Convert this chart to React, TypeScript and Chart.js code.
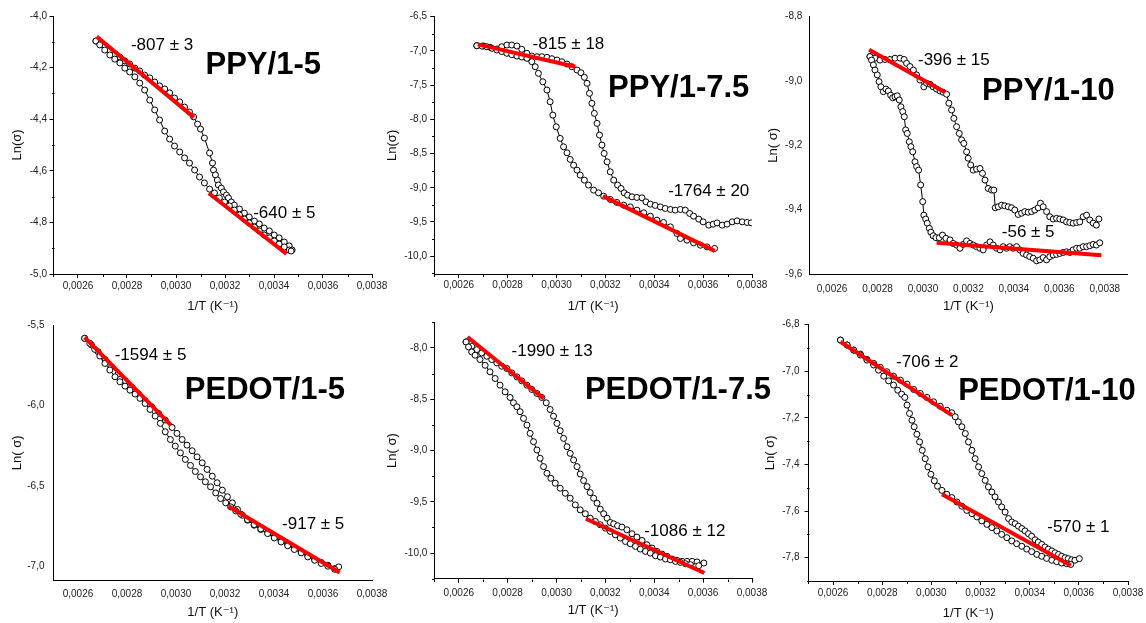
import React, { useEffect, useRef } from 'react';
import { Chart, registerables } from 'chart.js';

Chart.register(...registerables);

const W = 1146;
const H = 623;
const FONT = "'Liberation Sans', Arial, 'DejaVu Sans', sans-serif";

// ---------- tick labels ----------
const X_TICKS = [0.0026, 0.0028, 0.003, 0.0032, 0.0034, 0.0036, 0.0038];
const Y_TICKS_PPY5 = [-5.0, -4.8, -4.6, -4.4, -4.2, -4.0];
const Y_TICKS_PPY75 = [-10.0, -9.5, -9.0, -8.5, -8.0, -7.5, -7.0, -6.5];
const Y_TICKS_PPY10 = [-9.6, -9.4, -9.2, -9.0, -8.8];
const Y_TICKS_PEDOT5 = [-7.0, -6.5, -6.0, -5.5];
const Y_TICKS_PEDOT75 = [-10.0, -9.5, -9.0, -8.5, -8.0];
const Y_TICKS_PEDOT10 = [-7.8, -7.6, -7.4, -7.2, -7.0, -6.8];

// ---------- PPY/1-5 ----------
const ppy5Upper: [number, number][] = [
  [0.002673, -4.097], [0.002689, -4.105], [0.002709, -4.116], [0.00273, -4.132], [0.00275, -4.147],
  [0.002771, -4.159], [0.002791, -4.174], [0.002811, -4.186], [0.002832, -4.202], [0.002852, -4.213],
  [0.002872, -4.229], [0.002893, -4.24], [0.002913, -4.256], [0.002933, -4.271], [0.002954, -4.283],
  [0.002974, -4.298], [0.002994, -4.318], [0.003015, -4.333], [0.003035, -4.353], [0.003055, -4.372],
  [0.003072, -4.391], [0.003088, -4.419], [0.0031, -4.438], [0.003116, -4.473], [0.003137, -4.531],
  [0.003149, -4.57], [0.003153, -4.597], [0.003161, -4.616], [0.003169, -4.636], [0.003173, -4.655],
  [0.003185, -4.667], [0.003194, -4.682], [0.003206, -4.694], [0.003214, -4.705], [0.003226, -4.721],
  [0.003238, -4.733], [0.003259, -4.748], [0.003279, -4.764], [0.003299, -4.779], [0.00332, -4.795],
  [0.00334, -4.806], [0.00336, -4.822], [0.003381, -4.833], [0.003401, -4.849], [0.003421, -4.86],
  [0.003442, -4.876], [0.003462, -4.891], [0.003474, -4.907],
];
const ppy5Lower: [number, number][] = [
  [0.002673, -4.097], [0.002689, -4.112], [0.002709, -4.132], [0.00273, -4.151], [0.00275, -4.167],
  [0.002771, -4.182], [0.002791, -4.202], [0.002811, -4.217], [0.002832, -4.236], [0.002852, -4.26],
  [0.002872, -4.287], [0.002893, -4.326], [0.002913, -4.364], [0.002933, -4.403], [0.002954, -4.446],
  [0.002974, -4.477], [0.002994, -4.504], [0.003015, -4.527], [0.003035, -4.55], [0.003055, -4.57],
  [0.003076, -4.597], [0.003096, -4.624], [0.003116, -4.647], [0.003137, -4.671], [0.003157, -4.686],
  [0.003177, -4.705], [0.003198, -4.721], [0.003218, -4.736], [0.003238, -4.752], [0.003259, -4.771],
  [0.003279, -4.787], [0.003299, -4.802], [0.00332, -4.818], [0.00334, -4.833], [0.00336, -4.849],
  [0.003381, -4.86], [0.003401, -4.872], [0.003421, -4.884], [0.003442, -4.895], [0.003462, -4.907],
  [0.00347, -4.911],
];
const ppy5FitHigh: [number, number][] = [[0.002676, -4.08], [0.003073, -4.393]];
const ppy5FitLow: [number, number][] = [[0.003134, -4.687], [0.003451, -4.922]];

// ---------- PPY/1-7.5 ----------
const ppy75Upper: [number, number][] = [
  [0.002674, -6.924], [0.002701, -6.928], [0.002728, -6.947], [0.002756, -6.972], [0.002776, -6.939],
  [0.002797, -6.914], [0.002817, -6.914], [0.002838, -6.928], [0.002858, -6.977], [0.002879, -7.035],
  [0.002899, -7.075], [0.00292, -7.085], [0.00294, -7.085], [0.002961, -7.094], [0.002981, -7.114],
  [0.003002, -7.133], [0.003022, -7.158], [0.003043, -7.192], [0.003063, -7.231], [0.003084, -7.279],
  [0.0031, -7.319], [0.003114, -7.386], [0.003125, -7.474], [0.003135, -7.62], [0.003145, -7.766],
  [0.003155, -7.913], [0.003166, -8.059], [0.003176, -8.23], [0.003186, -8.376], [0.003195, -8.498],
  [0.003207, -8.621], [0.00322, -8.767], [0.003234, -8.888], [0.00325, -8.961], [0.003264, -9.01],
  [0.003277, -9.074], [0.003291, -9.108], [0.003309, -9.132], [0.003329, -9.141], [0.00335, -9.147],
  [0.003366, -9.205], [0.003384, -9.239], [0.003404, -9.258], [0.003425, -9.279], [0.003445, -9.302],
  [0.003466, -9.317], [0.003486, -9.327], [0.003507, -9.317], [0.003527, -9.327], [0.003545, -9.375],
  [0.003561, -9.415], [0.003582, -9.458], [0.0036, -9.498], [0.003623, -9.546], [0.003641, -9.532],
  [0.003657, -9.513], [0.003678, -9.546], [0.003698, -9.532], [0.003719, -9.498], [0.003739, -9.483],
  [0.00376, -9.498], [0.00378, -9.507], [0.003797, -9.513],
];
const ppy75Lower: [number, number][] = [
  [0.002674, -6.924], [0.002695, -6.93], [0.002715, -6.939], [0.002736, -6.962], [0.002756, -6.987],
  [0.002776, -7.01], [0.002797, -7.035], [0.002817, -7.055], [0.002838, -7.075], [0.002858, -7.09],
  [0.002879, -7.108], [0.002899, -7.158], [0.002913, -7.231], [0.002926, -7.328], [0.002944, -7.451],
  [0.002961, -7.572], [0.002974, -7.743], [0.002985, -7.938], [0.002999, -8.109], [0.003015, -8.278],
  [0.003029, -8.401], [0.003043, -8.489], [0.003056, -8.585], [0.00307, -8.669], [0.003084, -8.742],
  [0.003097, -8.815], [0.003114, -8.888], [0.003131, -8.961], [0.003152, -9.034], [0.003172, -9.074],
  [0.003193, -9.122], [0.00322, -9.17], [0.003247, -9.214], [0.003275, -9.254], [0.003302, -9.279],
  [0.003329, -9.327], [0.003357, -9.366], [0.003384, -9.415], [0.003411, -9.473], [0.003438, -9.507],
  [0.003466, -9.571], [0.003493, -9.668], [0.003507, -9.741], [0.003534, -9.766], [0.003561, -9.805],
  [0.003589, -9.839], [0.003616, -9.864], [0.003647, -9.887],
];
const ppy75FitHigh: [number, number][] = [[0.002678, -6.904], [0.003077, -7.231]];
const ppy75FitLow: [number, number][] = [[0.00319, -9.122], [0.003647, -9.922]];

// ---------- PPY/1-10 ----------
const ppy10Upper: [number, number][] = [
  [0.002767, -8.924], [0.002789, -8.929], [0.002811, -8.935], [0.002833, -8.933], [0.002855, -8.933],
  [0.002877, -8.929], [0.002899, -8.929], [0.002917, -8.933], [0.002928, -8.945], [0.002943, -8.955],
  [0.002958, -8.966], [0.002972, -8.981], [0.002987, -8.997], [0.003004, -9.018], [0.003016, -9.007],
  [0.003031, -9.01], [0.003045, -9.018], [0.00306, -9.025], [0.003075, -9.031], [0.003089, -9.035],
  [0.003104, -9.041], [0.003114, -9.069], [0.003126, -9.09], [0.003136, -9.116], [0.003148, -9.142],
  [0.00316, -9.163], [0.00317, -9.183], [0.00318, -9.194], [0.003192, -9.22], [0.003199, -9.24],
  [0.00321, -9.261], [0.003221, -9.277], [0.003236, -9.274], [0.003251, -9.272], [0.003262, -9.287],
  [0.003273, -9.308], [0.003287, -9.334], [0.003302, -9.339], [0.003312, -9.339], [0.003318, -9.394],
  [0.003331, -9.391], [0.003346, -9.386], [0.00336, -9.388], [0.003375, -9.391], [0.00339, -9.394],
  [0.003404, -9.401], [0.003419, -9.415], [0.003434, -9.411], [0.003448, -9.406], [0.003463, -9.408],
  [0.003478, -9.406], [0.003492, -9.401], [0.003507, -9.394], [0.003517, -9.38], [0.003529, -9.391],
  [0.003544, -9.406], [0.003558, -9.422], [0.003573, -9.429], [0.003588, -9.427], [0.003602, -9.429],
  [0.003617, -9.432], [0.003632, -9.438], [0.003646, -9.44], [0.003661, -9.442], [0.003676, -9.44],
  [0.00369, -9.438], [0.003705, -9.422], [0.00372, -9.417], [0.003734, -9.432], [0.003749, -9.442],
  [0.003763, -9.448], [0.003774, -9.429],
];
const ppy10Lower: [number, number][] = [
  [0.002767, -8.924], [0.002774, -8.935], [0.002782, -8.95], [0.002789, -8.966], [0.002799, -8.981],
  [0.002807, -9.002], [0.002815, -9.018], [0.002826, -9.033], [0.002837, -9.025], [0.002848, -9.031],
  [0.002858, -9.044], [0.002867, -9.052], [0.002877, -9.049], [0.002887, -9.046], [0.002896, -9.059],
  [0.002903, -9.08], [0.002911, -9.095], [0.002918, -9.111], [0.002924, -9.152], [0.002931, -9.163],
  [0.00294, -9.189], [0.002947, -9.204], [0.002955, -9.22], [0.002965, -9.251], [0.002972, -9.266],
  [0.002981, -9.277], [0.00299, -9.323], [0.002999, -9.375], [0.003004, -9.417], [0.003012, -9.429],
  [0.003019, -9.442], [0.003028, -9.458], [0.003035, -9.47], [0.003045, -9.481], [0.003057, -9.487],
  [0.003072, -9.487], [0.003086, -9.479], [0.003101, -9.489], [0.003119, -9.494], [0.003133, -9.505],
  [0.003148, -9.51], [0.003163, -9.52], [0.003177, -9.508], [0.003192, -9.497], [0.003207, -9.505],
  [0.003221, -9.51], [0.003236, -9.515], [0.003251, -9.52], [0.003265, -9.525], [0.00328, -9.51],
  [0.003295, -9.5], [0.003309, -9.51], [0.003324, -9.52], [0.003339, -9.525], [0.003353, -9.515],
  [0.003368, -9.52], [0.003382, -9.515], [0.003397, -9.52], [0.003412, -9.515], [0.003426, -9.525],
  [0.003441, -9.536], [0.003456, -9.541], [0.00347, -9.546], [0.003485, -9.551], [0.0035, -9.559],
  [0.003514, -9.556], [0.003529, -9.549], [0.003544, -9.556], [0.003558, -9.546], [0.003573, -9.541],
  [0.003588, -9.539], [0.003602, -9.536], [0.003617, -9.533], [0.003632, -9.531], [0.003646, -9.533],
  [0.003661, -9.525], [0.003676, -9.52], [0.00369, -9.52], [0.003705, -9.515], [0.00372, -9.515],
  [0.003734, -9.512], [0.003749, -9.508], [0.003763, -9.51], [0.003778, -9.503],
];
const ppy10FitHigh: [number, number][] = [[0.002763, -8.903], [0.003097, -9.035]];
const ppy10FitLow: [number, number][] = [[0.00306, -9.503], [0.003785, -9.542]];

// ---------- PEDOT/1-5 ----------
const pedot5Upper: [number, number][] = [
  [0.002627, -5.583], [0.002655, -5.624], [0.002682, -5.666], [0.00271, -5.714], [0.002737, -5.759],
  [0.002764, -5.805], [0.002792, -5.846], [0.002819, -5.888], [0.002847, -5.929], [0.002874, -5.971],
  [0.002901, -6.008], [0.002929, -6.05], [0.002956, -6.091], [0.002984, -6.137], [0.003004, -6.174],
  [0.003025, -6.212], [0.003045, -6.247], [0.003066, -6.282], [0.003086, -6.32], [0.003107, -6.357],
  [0.003127, -6.398], [0.003148, -6.44], [0.003168, -6.481], [0.003189, -6.527], [0.00321, -6.568],
  [0.00323, -6.606], [0.003251, -6.647], [0.003271, -6.683], [0.003292, -6.714], [0.003319, -6.745],
  [0.003346, -6.772], [0.003374, -6.793], [0.003401, -6.817], [0.003429, -6.842], [0.003456, -6.865],
  [0.003483, -6.886], [0.003511, -6.907], [0.003538, -6.932], [0.003566, -6.959], [0.003593, -6.977],
  [0.00362, -6.994], [0.003648, -7.015], [0.003664, -7.004],
];
const pedot5Lower: [number, number][] = [
  [0.002627, -5.583], [0.002648, -5.614], [0.002668, -5.651], [0.002689, -5.693], [0.00271, -5.739],
  [0.00273, -5.78], [0.002751, -5.822], [0.002771, -5.853], [0.002792, -5.88], [0.002812, -5.905],
  [0.002833, -5.929], [0.002853, -5.956], [0.002874, -5.988], [0.002894, -6.025], [0.002915, -6.066],
  [0.002936, -6.112], [0.002956, -6.164], [0.002977, -6.212], [0.002997, -6.253], [0.003018, -6.295],
  [0.003038, -6.336], [0.003059, -6.373], [0.003079, -6.411], [0.0031, -6.444], [0.00312, -6.475],
  [0.003141, -6.506], [0.003162, -6.544], [0.003182, -6.579], [0.003203, -6.606], [0.003223, -6.631],
  [0.003244, -6.656], [0.003264, -6.676], [0.003292, -6.71], [0.003319, -6.741], [0.003346, -6.768],
  [0.003374, -6.797], [0.003401, -6.824], [0.003429, -6.849], [0.003456, -6.873], [0.003483, -6.896],
  [0.003511, -6.917], [0.003538, -6.942], [0.003566, -6.963], [0.003593, -6.983], [0.00362, -7.0],
  [0.003648, -7.019],
];
const pedot5FitHigh: [number, number][] = [[0.002627, -5.577], [0.002979, -6.122]];
const pedot5FitLow: [number, number][] = [[0.003214, -6.627], [0.003668, -7.039]];

// ---------- PEDOT/1-7.5 ----------
const pedot75Upper: [number, number][] = [
  [0.00263, -7.942], [0.002653, -7.984], [0.002674, -8.016], [0.002694, -8.049], [0.002715, -8.081],
  [0.002735, -8.113], [0.002756, -8.146], [0.002776, -8.178], [0.002797, -8.201], [0.002817, -8.243],
  [0.002838, -8.282], [0.002858, -8.321], [0.002879, -8.363], [0.002899, -8.405], [0.00292, -8.444],
  [0.00294, -8.483], [0.002958, -8.535], [0.002974, -8.6], [0.002988, -8.665], [0.003002, -8.736],
  [0.003015, -8.807], [0.003029, -8.882], [0.003043, -8.963], [0.003056, -9.028], [0.00307, -9.092],
  [0.003084, -9.157], [0.003097, -9.229], [0.003111, -9.293], [0.003125, -9.352], [0.003138, -9.41],
  [0.003152, -9.465], [0.003166, -9.514], [0.003179, -9.572], [0.003193, -9.617], [0.003207, -9.66],
  [0.00322, -9.702], [0.003234, -9.715], [0.00325, -9.734], [0.003268, -9.747], [0.003288, -9.773],
  [0.003309, -9.812], [0.003329, -9.844], [0.00335, -9.877], [0.00337, -9.919], [0.003391, -9.951],
  [0.003411, -9.984], [0.003432, -10.01], [0.003452, -10.032], [0.003473, -10.058], [0.003493, -10.071],
  [0.003514, -10.081], [0.003534, -10.081], [0.003555, -10.081], [0.003575, -10.087], [0.003603, -10.097],
];
const pedot75Lower: [number, number][] = [
  [0.00263, -7.942], [0.00264, -7.99], [0.002653, -8.039], [0.002667, -8.071], [0.002687, -8.113],
  [0.002708, -8.169], [0.002728, -8.233], [0.002749, -8.298], [0.002769, -8.363], [0.00279, -8.428],
  [0.00281, -8.483], [0.002824, -8.535], [0.002838, -8.574], [0.002851, -8.622], [0.002865, -8.687],
  [0.002879, -8.752], [0.002892, -8.833], [0.002906, -8.914], [0.00292, -8.995], [0.002933, -9.076],
  [0.002947, -9.157], [0.002961, -9.222], [0.002977, -9.271], [0.002995, -9.319], [0.003015, -9.368],
  [0.003036, -9.417], [0.003056, -9.465], [0.003077, -9.53], [0.003097, -9.579], [0.003118, -9.617],
  [0.003138, -9.66], [0.003159, -9.692], [0.003179, -9.724], [0.0032, -9.757], [0.00322, -9.789],
  [0.003241, -9.822], [0.003261, -9.854], [0.003282, -9.887], [0.003302, -9.909], [0.003323, -9.935],
  [0.003343, -9.961], [0.003364, -9.984], [0.003384, -10.0], [0.003405, -10.026], [0.003425, -10.039],
  [0.003446, -10.058], [0.003466, -10.065], [0.003487, -10.081], [0.003507, -10.091], [0.003528, -10.104],
  [0.003548, -10.113], [0.003569, -10.13], [0.003582, -10.123],
];
const pedot75FitHigh: [number, number][] = [[0.002636, -7.893], [0.002947, -8.493]];
const pedot75FitLow: [number, number][] = [[0.00312, -9.666], [0.003605, -10.194]];

// ---------- PEDOT/1-10 ----------
const pedot10Upper: [number, number][] = [
  [0.00263, -6.866], [0.002657, -6.887], [0.002684, -6.909], [0.002711, -6.926], [0.002738, -6.949],
  [0.002765, -6.966], [0.002792, -6.983], [0.002819, -7.002], [0.002846, -7.021], [0.002874, -7.038],
  [0.002901, -7.055], [0.002928, -7.078], [0.002955, -7.095], [0.002982, -7.112], [0.003009, -7.131],
  [0.003036, -7.15], [0.003063, -7.167], [0.003083, -7.178], [0.003097, -7.195], [0.00311, -7.217],
  [0.003124, -7.238], [0.003138, -7.267], [0.003151, -7.303], [0.003165, -7.339], [0.003178, -7.375],
  [0.003192, -7.41], [0.003205, -7.439], [0.003219, -7.468], [0.003232, -7.496], [0.003246, -7.518],
  [0.003259, -7.539], [0.003273, -7.561], [0.003286, -7.582], [0.0033, -7.604], [0.003314, -7.632],
  [0.003327, -7.647], [0.003341, -7.654], [0.003354, -7.665], [0.003368, -7.675], [0.003381, -7.685],
  [0.003395, -7.697], [0.003408, -7.708], [0.003422, -7.723], [0.003435, -7.733], [0.003449, -7.743],
  [0.003462, -7.754], [0.003476, -7.763], [0.00349, -7.771], [0.003503, -7.779], [0.003517, -7.786],
  [0.00353, -7.794], [0.003544, -7.8], [0.003557, -7.804], [0.003571, -7.809], [0.003584, -7.811],
  [0.003602, -7.804],
];
const pedot10Lower: [number, number][] = [
  [0.00263, -6.866], [0.002657, -6.887], [0.002684, -6.909], [0.002711, -6.93], [0.002738, -6.952],
  [0.002765, -6.973], [0.002785, -6.995], [0.002806, -7.021], [0.002826, -7.041], [0.002846, -7.059],
  [0.002863, -7.081], [0.002879, -7.098], [0.002892, -7.112], [0.002901, -7.145], [0.002911, -7.181],
  [0.002921, -7.21], [0.00293, -7.238], [0.002941, -7.27], [0.002952, -7.303], [0.002963, -7.339],
  [0.002975, -7.375], [0.002986, -7.41], [0.002998, -7.442], [0.003012, -7.47], [0.003025, -7.493],
  [0.003043, -7.511], [0.003063, -7.528], [0.003083, -7.542], [0.003104, -7.561], [0.003124, -7.579],
  [0.003144, -7.597], [0.003165, -7.611], [0.003185, -7.625], [0.003205, -7.642], [0.003226, -7.657],
  [0.003246, -7.671], [0.003266, -7.685], [0.003286, -7.7], [0.003307, -7.714], [0.003327, -7.728],
  [0.003347, -7.74], [0.003368, -7.751], [0.003388, -7.763], [0.003408, -7.774], [0.003429, -7.786],
  [0.003449, -7.794], [0.003469, -7.803], [0.00349, -7.811], [0.00351, -7.817], [0.00353, -7.823],
  [0.003551, -7.826], [0.003567, -7.829],
];
const pedot10FitHigh: [number, number][] = [[0.00263, -6.873], [0.003083, -7.188]];
const pedot10FitLow: [number, number][] = [[0.003043, -7.528], [0.003567, -7.833]];

// ---------- text labels ----------
const PPY5_TEXT = ['-807 ± 3', 'PPY/1-5', '-640 ± 5'];
const PPY75_TEXT = ['-815 ± 18', 'PPY/1-7.5', '-1764 ± 20'];
const PPY10_TEXT = ['-396 ± 15', 'PPY/1-10', '-56 ± 5'];
const PEDOT5_TEXT = ['-1594 ± 5', 'PEDOT/1-5', '-917 ± 5'];
const PEDOT75_TEXT = ['-1990 ± 13', 'PEDOT/1-7.5', '-1086 ± 12'];
const PEDOT10_TEXT = ['-706 ± 2', 'PEDOT/1-10', '-570 ± 1'];

type Pair = [number, number];
type PanelCfg = {
  area: { l: number; t: number; r: number; b: number };
  xMin: number; xMax: number; yMin: number; yMax: number;
  yTicks: number[];
  hasTicks: boolean;
  yLabelPad: number; xLabelPad: number; yTitlePad: number;
  yTitle: string;
  upper: Pair[]; lower: Pair[]; fits: Pair[][];
  texts: string[];
  textPos: Pair[];
};

const PANELS: PanelCfg[] = [
  {
    area: { l: 53.5, t: 16, r: 372, b: 274 }, xMin: 0.0025, xMax: 0.0038, yMin: -5.0, yMax: -4.0,
    yTicks: Y_TICKS_PPY5, hasTicks: true, yLabelPad: 2.5, xLabelPad: 2, yTitlePad: 5.7, yTitle: 'Ln(σ)',
    upper: ppy5Upper, lower: ppy5Lower, fits: [ppy5FitHigh, ppy5FitLow], texts: PPY5_TEXT,
    textPos: [[0.002943, -4.115], [0.003356, -4.193], [0.003442, -4.763]],
  },
  {
    area: { l: 434.3, t: 16.7, r: 752, b: 274 }, xMin: 0.0025, xMax: 0.0038, yMin: -10.26, yMax: -6.5,
    yTicks: Y_TICKS_PPY75, hasTicks: true, yLabelPad: 3.3, xLabelPad: 1.5, yTitlePad: 0, yTitle: 'Ln(σ)',
    upper: ppy75Upper, lower: ppy75Lower, fits: [ppy75FitHigh, ppy75FitLow], texts: PPY75_TEXT,
    textPos: [[0.003049, -6.899], [0.0035, -7.547], [0.003623, -9.049]],
  },
  {
    area: { l: 809.3, t: 16.7, r: 1127.5, b: 274 }, xMin: 0.0025, xMax: 0.0039, yMin: -9.6, yMax: -8.8,
    yTicks: Y_TICKS_PPY10, hasTicks: false, yLabelPad: 7, xLabelPad: 9, yTitlePad: 5.9, yTitle: 'Ln( σ)',
    upper: ppy10Upper, lower: ppy10Lower, fits: [ppy10FitHigh, ppy10FitLow], texts: PPY10_TEXT,
    textPos: [[0.003136, -8.937], [0.003552, -9.033], [0.003463, -9.47]],
  },
  {
    area: { l: 53.5, t: 325, r: 372, b: 580.7 }, xMin: 0.0025, xMax: 0.0038, yMin: -7.09, yMax: -5.5,
    yTicks: Y_TICKS_PEDOT5, hasTicks: false, yLabelPad: 9, xLabelPad: 7.3, yTitlePad: 5.7, yTitle: 'Ln( σ)',
    upper: pedot5Upper, lower: pedot5Lower, fits: [pedot5FitHigh, pedot5FitLow], texts: PEDOT5_TEXT,
    textPos: [[0.002896, -5.689], [0.003363, -5.909], [0.00356, -6.737]],
  },
  {
    area: { l: 434.3, t: 322.3, r: 752, b: 578.7 }, xMin: 0.0025, xMax: 0.0038, yMin: -10.25, yMax: -7.75,
    yTicks: Y_TICKS_PEDOT75, hasTicks: true, yLabelPad: 3, xLabelPad: 4.5, yTitlePad: 0, yTitle: 'Ln( σ)',
    upper: pedot75Upper, lower: pedot75Lower, fits: [pedot75FitHigh, pedot75FitLow], texts: PEDOT75_TEXT,
    textPos: [[0.002982, -8.035], [0.003497, -8.411], [0.003525, -9.79]],
  },
  {
    area: { l: 808.5, t: 324.7, r: 1128, b: 581 }, xMin: 0.0025, xMax: 0.0038, yMin: -7.9, yMax: -6.8,
    yTicks: Y_TICKS_PEDOT10, hasTicks: true, yLabelPad: 5, xLabelPad: 2.7, yTitlePad: 4.2, yTitle: 'Ln( σ)',
    upper: pedot10Upper, lower: pedot10Lower, fits: [pedot10FitHigh, pedot10FitLow], texts: PEDOT10_TEXT,
    textPos: [[0.002983, -6.96], [0.00347, -7.085], [0.003598, -7.669]],
  },
];

const YW = 50;
const XH = 45;

const toPts = (a: Pair[]) => a.map(([x, y]) => ({ x, y }));

function minorValues(majors: number[], min: number, max: number) {
  const out: number[] = [];
  const step = majors[1] - majors[0];
  const eps = step * 1e-3;
  const first = majors[0] - step / 2;
  if (first >= min - eps) out.push(first);
  for (let i = 0; i < majors.length - 1; i++) out.push((majors[i] + majors[i + 1]) / 2);
  const last = majors[majors.length - 1] + step / 2;
  if (last <= max + eps) out.push(last);
  return out;
}

function Panel({ cfg }: { cfg: PanelCfg }) {
  const ref = useRef<HTMLCanvasElement | null>(null);
  useEffect(() => {
    if (!ref.current) return;
    const { area } = cfg;
    const xTicks = X_TICKS.filter((v) => v <= cfg.xMax + 1e-9);

    const minorPlugin = {
      id: 'minorTicks',
      afterDraw(chart: any) {
        if (!cfg.hasTicks) return;
        const ctx = chart.ctx;
        const xs = chart.scales.x;
        const ys = chart.scales.y;
        const ca = chart.chartArea;
        ctx.save();
        ctx.strokeStyle = '#000';
        ctx.lineWidth = 1;
        ctx.beginPath();
        const by = Math.round(ca.bottom) + 0.5;
        for (const v of minorValues(xTicks, cfg.xMin, cfg.xMax)) {
          const px = Math.round(xs.getPixelForValue(v)) + 0.5;
          ctx.moveTo(px, by);
          ctx.lineTo(px, by + 2.5);
        }
        const lx = Math.round(ca.left) + 0.5;
        for (const v of minorValues(cfg.yTicks, cfg.yMin, cfg.yMax)) {
          const py = Math.round(ys.getPixelForValue(v)) + 0.5;
          ctx.moveTo(lx, py);
          ctx.lineTo(lx - 2.5, py);
        }
        ctx.stroke();
        ctx.restore();
      },
    };

    const textPlugin = {
      id: 'panelTexts',
      afterDatasetsDraw(chart: any) {
        const ctx = chart.ctx;
        const xs = chart.scales.x;
        const ys = chart.scales.y;
        ctx.save();
        ctx.fillStyle = '#000';
        ctx.textAlign = 'center';
        ctx.textBaseline = 'middle';
        cfg.texts.forEach((t, i) => {
          const bold = i === 1;
          ctx.font = `${bold ? 'bold ' : ''}${bold ? 31 : 17}px ${FONT}`;
          const [x, y] = cfg.textPos[i];
          ctx.fillText(t, xs.getPixelForValue(x), ys.getPixelForValue(y));
        });
        ctx.restore();
      },
    };

    const branch = (d: Pair[]) => ({
      data: toPts(d),
      showLine: true,
      borderColor: '#000',
      borderWidth: 1,
      tension: 0,
      pointRadius: 3,
      pointBackgroundColor: '#fff',
      pointBorderColor: '#000',
      pointBorderWidth: 1,
      order: 2,
    });
    const fit = (d: Pair[]) => ({
      data: toPts(d),
      showLine: true,
      borderColor: '#ff0000',
      borderWidth: 4,
      pointRadius: 0,
      order: 0,
    });

    const chart = new Chart(ref.current, {
      type: 'scatter',
      data: {
        datasets: [branch(cfg.lower), branch(cfg.upper), fit(cfg.fits[0]), fit(cfg.fits[1])] as any,
      },
      options: {
        animation: false,
        responsive: false,
        devicePixelRatio: 1,
        events: [],
        layout: {
          padding: { left: area.l - YW, top: area.t, right: W - area.r, bottom: H - area.b - XH },
        },
        plugins: { legend: { display: false }, tooltip: { enabled: false } },
        scales: {
          x: {
            type: 'linear',
            position: 'bottom',
            min: cfg.xMin,
            max: cfg.xMax,
            bounds: 'data',
            afterBuildTicks: (s: any) => {
              s.ticks = xTicks.map((v) => ({ value: v }));
            },
            afterFit: (s: any) => {
              s.height = XH;
              s.paddingLeft = 0; s.paddingRight = 0; s.paddingTop = 0; s.paddingBottom = 0;
            },
            grid: { display: true, drawOnChartArea: false, drawTicks: cfg.hasTicks, tickLength: 4, color: '#000', lineWidth: 1 },
            border: { display: true, color: '#000', width: 1 },
            ticks: {
              autoSkip: false, maxRotation: 0, minRotation: 0, padding: cfg.xLabelPad, color: '#222',
              font: { size: 10, family: FONT },
              callback: (v: any) => Number(v).toFixed(4).replace('.', ','),
            },
            title: {
              display: true, text: '1/T (K⁻¹)', color: '#111',
              font: { size: 13, family: FONT }, padding: { top: 0, bottom: 5 },
            },
          },
          y: {
            type: 'linear',
            position: 'left',
            min: cfg.yMin,
            max: cfg.yMax,
            bounds: 'data',
            afterBuildTicks: (s: any) => {
              s.ticks = cfg.yTicks.map((v) => ({ value: v }));
            },
            afterFit: (s: any) => {
              s.width = YW;
              s.paddingLeft = 0; s.paddingRight = 0; s.paddingTop = 0; s.paddingBottom = 0;
            },
            grid: { display: true, drawOnChartArea: false, drawTicks: cfg.hasTicks, tickLength: 4, color: '#000', lineWidth: 1 },
            border: { display: true, color: '#000', width: 1 },
            ticks: {
              autoSkip: false, padding: cfg.yLabelPad, color: '#222',
              font: { size: 10, family: FONT },
              callback: (v: any) => Number(v).toFixed(1).replace('.', ','),
            },
            title: {
              display: true, text: cfg.yTitle, color: '#111',
              font: { size: 13, family: FONT }, padding: { top: cfg.yTitlePad, bottom: 0 },
            },
          },
        },
      } as any,
      plugins: [minorPlugin, textPlugin],
    });
    return () => chart.destroy();
  }, [cfg]);
  return (
    <canvas
      ref={ref}
      width={W}
      height={H}
      style={{ position: 'absolute', left: 0, top: 0, width: W, height: H }}
    />
  );
}

export default function App() {
  return (
    <div style={{ position: 'absolute', left: 0, top: 0, width: W, height: H, background: '#fff', overflow: 'hidden' }}>
      {PANELS.map((p, i) => (
        <Panel key={i} cfg={p} />
      ))}
    </div>
  );
}
